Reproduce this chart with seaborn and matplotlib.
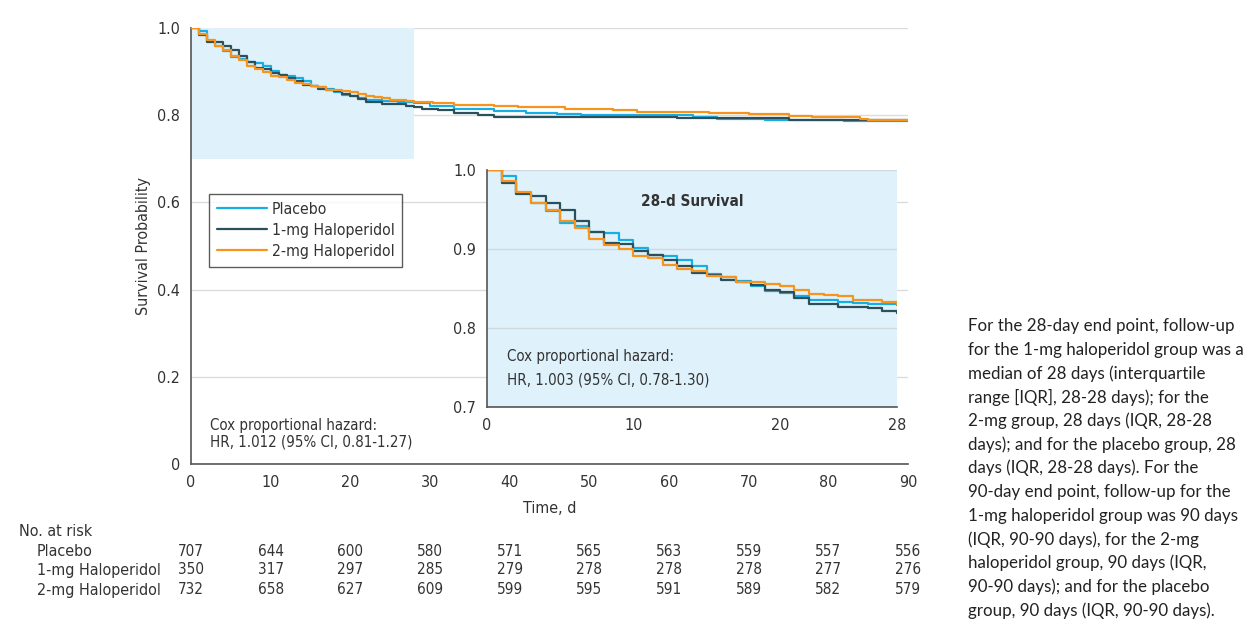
import pandas as pd
import seaborn as sns
import matplotlib.pyplot as plt
from matplotlib.transforms import blended_transform_factory

# group names and colors
groups = ['Placebo', '1-mg Haloperidol', '2-mg Haloperidol']
palette = {'Placebo': '#17aee6', '1-mg Haloperidol': '#2c4f5c', '2-mg Haloperidol': '#f7941d'}

# survival estimates, days 0-28
days_28 = list(range(0, 29))
placebo_28 = [1.000, 0.992, 0.971, 0.958, 0.948, 0.933, 0.929, 0.922, 0.920, 0.912,
              0.901, 0.893, 0.891, 0.886, 0.878, 0.868, 0.865, 0.859, 0.853, 0.847,
              0.844, 0.840, 0.836, 0.835, 0.833, 0.832, 0.831, 0.830, 0.829]
mg1_28 = [1.000, 0.984, 0.969, 0.967, 0.958, 0.949, 0.935, 0.922, 0.908, 0.906,
          0.897, 0.892, 0.886, 0.878, 0.869, 0.867, 0.861, 0.858, 0.855, 0.848,
          0.845, 0.838, 0.831, 0.831, 0.826, 0.826, 0.825, 0.822, 0.819]
mg2_28 = [1.000, 0.986, 0.972, 0.958, 0.950, 0.936, 0.926, 0.913, 0.905, 0.900,
          0.891, 0.888, 0.880, 0.875, 0.872, 0.866, 0.865, 0.858, 0.858, 0.856,
          0.853, 0.848, 0.843, 0.842, 0.840, 0.836, 0.835, 0.833, 0.831]

# survival estimates after day 28
placebo_late_days = [30, 33, 38, 42, 46, 49, 63, 66, 72, 82, 90]
placebo_late = [0.822, 0.815, 0.810, 0.806, 0.803, 0.800, 0.796, 0.791, 0.788, 0.786, 0.786]
mg1_late_days = [29, 31, 33, 36, 38, 40.5, 61, 75, 90]
mg1_late = [0.815, 0.811, 0.805, 0.801, 0.797, 0.795, 0.793, 0.790, 0.790]
mg2_late_days = [30.4, 33, 38, 41, 47, 53, 56, 65, 70, 75, 78, 84, 85, 90]
mg2_late = [0.828, 0.824, 0.821, 0.818, 0.814, 0.811, 0.807, 0.805, 0.803, 0.798, 0.795, 0.792, 0.790, 0.790]

# number at risk table
risk_times = [0, 10, 20, 30, 40, 50, 60, 70, 80, 90]
risk_placebo = [707, 644, 600, 580, 571, 565, 563, 559, 557, 556]
risk_mg1 = [350, 317, 297, 285, 279, 278, 278, 278, 277, 276]
risk_mg2 = [732, 658, 627, 609, 599, 595, 591, 589, 582, 579]

note_lines = [
    'For the 28-day end point, follow-up',
    'for the 1-mg haloperidol group was a',
    'median of 28 days (interquartile',
    'range [IQR], 28-28 days); for the',
    '2-mg group, 28 days (IQR, 28-28',
    'days); and for the placebo group, 28',
    'days (IQR, 28-28 days). For the',
    '90-day end point, follow-up for the',
    '1-mg haloperidol group was 90 days',
    '(IQR, 90-90 days), for the 2-mg',
    'haloperidol group, 90 days (IQR,',
    '90-90 days); and for the placebo',
    'group, 90 days (IQR, 90-90 days).',
]

# build dataframes
early = pd.concat([
    pd.DataFrame({'day': days_28, 'surv': placebo_28, 'group': 'Placebo'}),
    pd.DataFrame({'day': days_28, 'surv': mg1_28, 'group': '1-mg Haloperidol'}),
    pd.DataFrame({'day': days_28, 'surv': mg2_28, 'group': '2-mg Haloperidol'}),
])
late = pd.concat([
    pd.DataFrame({'day': placebo_late_days, 'surv': placebo_late, 'group': 'Placebo'}),
    pd.DataFrame({'day': mg1_late_days, 'surv': mg1_late, 'group': '1-mg Haloperidol'}),
    pd.DataFrame({'day': mg2_late_days, 'surv': mg2_late, 'group': '2-mg Haloperidol'}),
])
full = pd.concat([early, late], ignore_index=True)

sns.set_style('white')
plt.rcParams['font.family'] = ['DejaVu Sans']
plt.rcParams['font.stretch'] = 'condensed'
plt.rcParams['axes.unicode_minus'] = False

text_col = '#333333'
spine_col = '#555555'
grid_col = '#dcdcdc'
shade = '#dff1fa'

fig = plt.figure(figsize=(12.52, 6.21), dpi=100)
ax = fig.add_axes([191 / 1252, 1 - 464 / 621, 717 / 1252, 436 / 621])

# ---- main plot
ax.set_axisbelow(True)
ax.yaxis.grid(True, color=grid_col, lw=1, zorder=0)
ax.fill_between([0, 28], 0.7, 1.0, color=shade, lw=0, zorder=1)
sns.lineplot(data=full, x='day', y='surv', hue='group', hue_order=groups,
             palette=palette, drawstyle='steps-post', lw=1.6, ax=ax, zorder=3)
ax.set_xlim(0, 90)
ax.set_ylim(0, 1.0)
ax.set_xticks(range(0, 91, 10))
ax.set_yticks([0, 0.2, 0.4, 0.6, 0.8, 1.0])
ax.set_yticklabels(['0', '0.2', '0.4', '0.6', '0.8', '1.0'])
for s in ['top', 'right']:
    ax.spines[s].set_visible(False)
for s in ['left', 'bottom']:
    ax.spines[s].set_color(spine_col)
    ax.spines[s].set_linewidth(1.2)
ax.tick_params(axis='both', direction='out', length=5, width=1, color=spine_col,
               labelsize=11.5, labelcolor=text_col, pad=3)
ax.set_xlabel('Time, d', fontsize=11.5, color=text_col, labelpad=8)
ax.set_ylabel('Survival Probability', fontsize=11.5, color=text_col, labelpad=4)

handles, labels = ax.get_legend_handles_labels()
leg = ax.legend(handles, labels, loc='upper left', bbox_to_anchor=(0.025, 0.619),
                borderaxespad=0, frameon=True, fancybox=False, fontsize=11.3,
                handlelength=3.2, handletextpad=0.3, borderpad=0.5, labelspacing=0.38)
leg.get_frame().set_edgecolor('#333333')
leg.get_frame().set_linewidth(1.0)
for t in leg.get_texts():
    t.set_color(text_col)

ax.text(0.026, 0.07, 'Cox proportional hazard:\nHR, 1.012 (95% CI, 0.81-1.27)',
        transform=ax.transAxes, fontsize=10.8, color=text_col, va='center',
        linespacing=1.15)

# ---- inset (28-day)
ins = fig.add_axes([487 / 1252, 1 - 407 / 621, 410 / 1252, 237 / 621])
ins.set_facecolor(shade)
ins.set_axisbelow(True)
ins.yaxis.grid(True, color='#cfd8dc', lw=1)
sns.lineplot(data=early, x='day', y='surv', hue='group', hue_order=groups,
             palette=palette, drawstyle='steps-post', lw=1.6, ax=ins, legend=False)
ins.set_xlim(0, 28)
ins.set_ylim(0.7, 1.0)
ins.set_xticks([0, 10, 20, 28])
ins.set_yticks([0.7, 0.8, 0.9, 1.0])
ins.set_yticklabels(['0.7', '0.8', '0.9', '1.0'])
ins.set_xlabel('')
ins.set_ylabel('')
for s in ['top', 'right']:
    ins.spines[s].set_visible(False)
for s in ['left', 'bottom']:
    ins.spines[s].set_color(spine_col)
    ins.spines[s].set_linewidth(1.2)
ins.tick_params(axis='both', direction='out', length=5, width=1, color=spine_col,
                labelsize=11.5, labelcolor=text_col, pad=3)
ins.text(0.5, 0.865, '28-d Survival', transform=ins.transAxes, ha='center',
         va='center', fontsize=11, fontweight='bold', color=text_col)
ins.text(0.05, 0.211, 'Cox proportional hazard:', transform=ins.transAxes,
         fontsize=10.8, color=text_col, va='center')
ins.text(0.05, 0.114, 'HR, 1.003 (95% CI, 0.78-1.30)', transform=ins.transAxes,
         fontsize=10.8, color=text_col, va='center')

# ---- number at risk table
tr = blended_transform_factory(ax.transData, fig.transFigure)
fig.text(19 / 1252, 1 - 531 / 621, 'No. at risk', fontsize=11.5, color=text_col, va='center')
rows = [('Placebo', risk_placebo, 551), ('1-mg Haloperidol', risk_mg1, 570),
        ('2-mg Haloperidol', risk_mg2, 590)]
for name, vals, py in rows:
    fig.text(37 / 1252, 1 - py / 621, name, fontsize=11.5, color=text_col, va='center')
    for t, v in zip(risk_times, vals):
        ax.text(t, 1 - py / 621, str(v), transform=tr, ha='center', va='center',
                fontsize=11, color=text_col, clip_on=False)

# ---- side note
for i, line in enumerate(note_lines):
    fig.text(968 / 1252, 1 - (326 + 23.7 * i) / 621, line, fontsize=12.2,
             color='#222222', va='center', family=['Lato', 'DejaVu Sans'],
             stretch='normal')

fig.savefig('out.png', dpi=100)
